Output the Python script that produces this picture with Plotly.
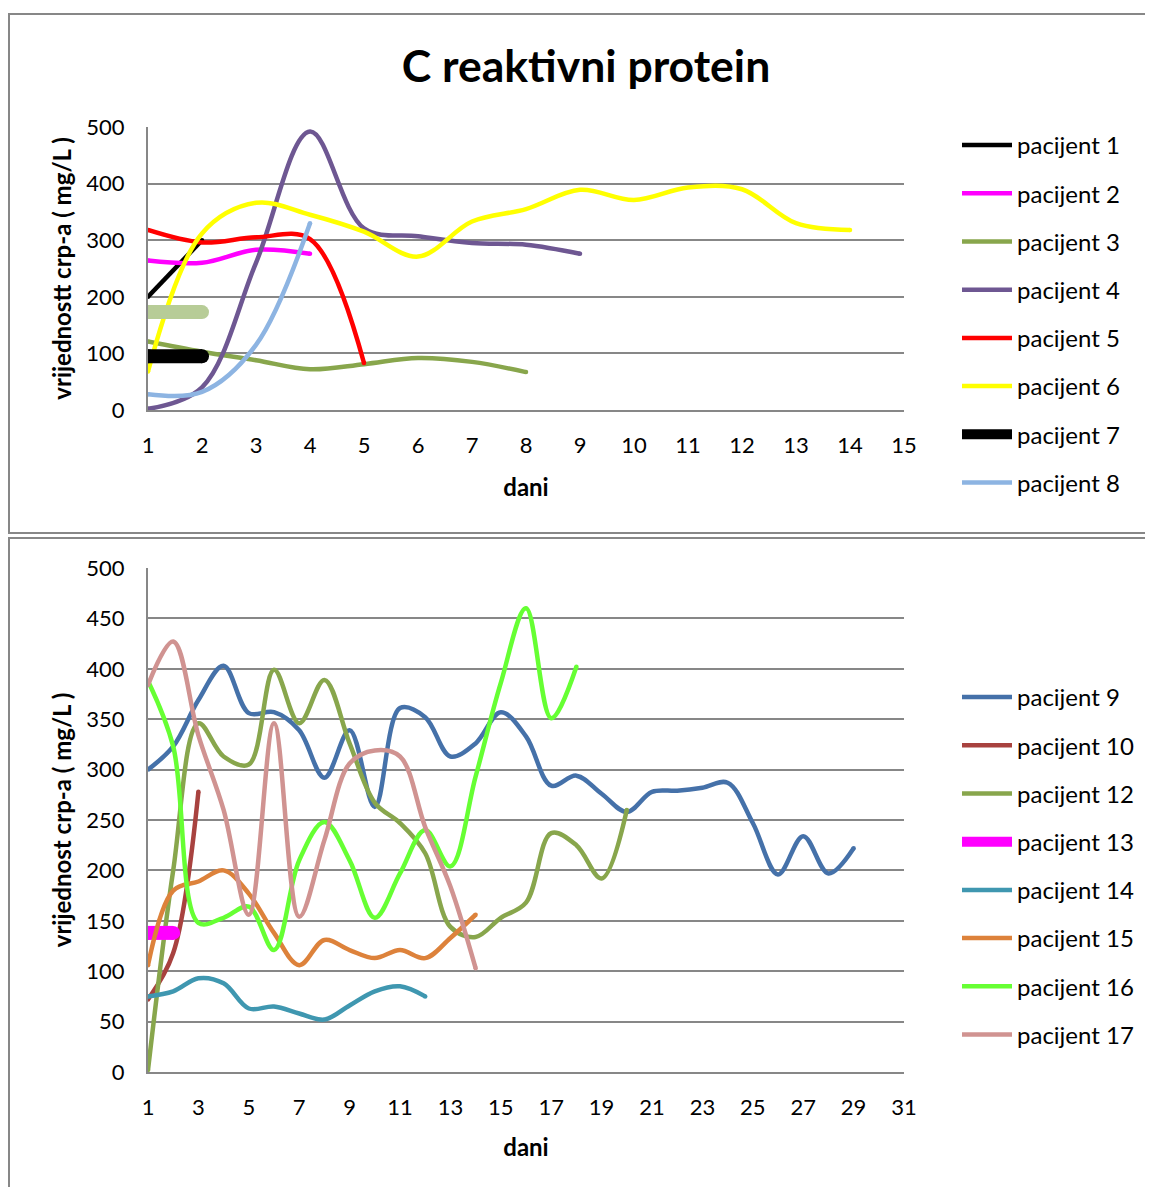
import plotly.graph_objects as go

W, H = 1153, 1187
FONT = "Lato"
GRAY = "#878787"

# ---------------- top chart data ----------------
top_names = ["pacijent 1", "pacijent 2", "pacijent 3", "pacijent 4",
             "pacijent 5", "pacijent 6", "pacijent 7", "pacijent 8"]
top_colors = ["#000000", "#FF00FF", "#88A64C", "#6E5792",
              "#FF0000", "#FFFF00", "#000000", "#8DB4E2"]
top_widths = [4.5, 4.5, 4.5, 4.5, 4.5, 4.5, 14, 4.5]
p1 = [200, 300]
p2 = [264, 260, 283, 276]
p3 = [121, 103, 88, 72, 81, 92, 85, 67]
p4 = [2, 40, 260, 492, 321, 307, 295, 292, 276]
p5 = [318, 296, 305, 302, 83]
p6 = [68, 312, 366, 345, 315, 271, 333, 355, 389, 371, 393, 390, 330, 318]
p7 = [95, 95]
p8 = [28, 32, 115, 330]
top_values = [p1, p2, p3, p4, p5, p6, p7, p8]
extra_top = [173, 173]          # unlabeled light-green series
extra_color = "#B7CC97"

# ---------------- bottom chart data ----------------
bot_names = ["pacijent 9", "pacijent 10", "pacijent 12", "pacijent 13",
             "pacijent 14", "pacijent 15", "pacijent 16", "pacijent 17"]
bot_colors = ["#4571A9", "#A8423F", "#88A64C", "#FF00FF",
              "#3F97B0", "#DD823B", "#66FF33", "#D09391"]
bot_widths = [4.5, 4.5, 4.5, 14, 4.5, 4.5, 4.5, 4.5]
p9 = [300, 323, 369, 403, 356, 357, 339, 292, 339, 263, 361, 352, 313, 326,
      357, 333, 284, 294, 276, 258, 278, 279, 282, 287, 247, 196, 234, 197, 222]
p10 = [72, 118, 278]
p12 = [2, 200, 346, 313, 305, 399, 346, 389, 326, 267, 247, 217, 144, 134,
       153, 168, 237, 225, 192, 260]
p13 = [138, 138]
p14 = [75, 80, 93, 88, 63, 65, 58, 52, 66, 80, 85, 75]
p15 = [106, 180, 189, 200, 177, 138, 106, 131, 121, 113, 121, 113, 133, 156]
p16 = [388, 323, 148, 153, 164, 121, 210, 248, 210, 153, 197, 240, 204, 293,
       386, 460, 351, 402]
p17 = [384, 427, 334, 260, 156, 346, 154, 230, 306, 319, 313, 243, 184, 103]
bot_values = [p9, p10, p12, p13, p14, p15, p16, p17]

fig = go.Figure()


def days(vals):
    return list(range(1, len(vals) + 1))


def add_series(name, color, width, vals, xa, ya, leg, show=True):
    fig.add_trace(go.Scatter(
        x=days(vals), y=vals, name=name, mode="lines",
        line=dict(color=color, width=width, shape="spline", smoothing=1),
        xaxis=xa, yaxis=ya, legend=leg, legendgroup=name or None,
        showlegend=show))
    # round line caps: end dots in the same colour (not shown in legend)
    fig.add_trace(go.Scatter(
        x=[days(vals)[0], days(vals)[-1]], y=[vals[0], vals[-1]],
        mode="markers", marker=dict(color=color, size=width, line=dict(width=0)),
        xaxis=xa, yaxis=ya, legend=leg, legendgroup=name or None,
        showlegend=False, hoverinfo="skip"))


for n, c, w, v in zip(top_names, top_colors, top_widths, top_values):
    add_series(n, c, w, v, "x", "y", "legend")
add_series("", extra_color, 14, extra_top, "x", "y", "legend", show=False)

for n, c, w, v in zip(bot_names, bot_colors, bot_widths, bot_values):
    add_series(n, c, w, v, "x2", "y2", "legend2")

# page is offset by 8px, so all pixel positions are reference minus 8
xd = [140 / W, 896 / W]
top_y = [1 - 402 / H, 1 - 119 / H]
bot_y = [1 - 1064 / H, 1 - 560 / H]

tickfont = dict(family=FONT, size=22, color="#000000")
titlefont = dict(family=FONT, size=24, color="#000000", weight="bold")
legfont = dict(family=FONT, size=24, color="#000000")

common_x = dict(showgrid=False, showline=True, linecolor=GRAY, linewidth=2,
                ticks="", tickfont=tickfont, zeroline=False, automargin=False,
                ticklabelstandoff=15)
common_y = dict(showgrid=True, gridcolor=GRAY, gridwidth=2, showline=True,
                linecolor=GRAY, linewidth=2, ticks="", tickfont=tickfont,
                zeroline=False, range=[0, 500], ticklabelstandoff=17,
                automargin=False)

fig.update_layout(
    width=W, height=H,
    margin=dict(l=0, r=0, t=0, b=0),
    paper_bgcolor="white", plot_bgcolor="white",
    font=dict(family=FONT, color="#000000"),
    title=dict(text="<b>C reaktivni protein</b>", x=578 / W, xanchor="center",
               y=1 - 58 / H, yanchor="middle",
               font=dict(family=FONT, size=44.5, color="#000000")),
    xaxis=dict(domain=xd, anchor="y", range=[1, 15], tick0=1, dtick=1,
               title=dict(text="dani", font=titlefont, standoff=22), **common_x),
    yaxis=dict(domain=top_y, anchor="x", dtick=100,
               title=dict(text="vrijednostt crp-a ( mg/L )", font=titlefont,
                          standoff=8),
               **common_y),
    xaxis2=dict(domain=xd, anchor="y2", range=[1, 31], tick0=1, dtick=2,
                title=dict(text="dani", font=titlefont, standoff=20), **common_x),
    yaxis2=dict(domain=bot_y, anchor="x2", dtick=50,
                title=dict(text="vrijednost crp-a ( mg/L )", font=titlefont,
                           standoff=8),
                **common_y),
    legend=dict(x=949 / W, xanchor="left", y=1 - 115 / H, yanchor="top",
                font=legfont, tracegroupgap=14, bgcolor="rgba(0,0,0,0)",
                itemwidth=50),
    legend2=dict(x=949 / W, xanchor="left", y=1 - 667 / H, yanchor="top",
                 font=legfont, tracegroupgap=14, bgcolor="rgba(0,0,0,0)",
                 itemwidth=50),
    shapes=[
        dict(type="rect", xref="paper", yref="paper",
             x0=1 / W, x1=1.05, y0=1 - 525 / H, y1=1 - 6 / H,
             line=dict(color=GRAY, width=2), fillcolor="rgba(0,0,0,0)"),
        dict(type="rect", xref="paper", yref="paper",
             x0=1 / W, x1=1.05, y0=-0.05, y1=1 - 530 / H,
             line=dict(color=GRAY, width=2), fillcolor="rgba(0,0,0,0)"),
    ],
)

fig.write_html("out.html")
